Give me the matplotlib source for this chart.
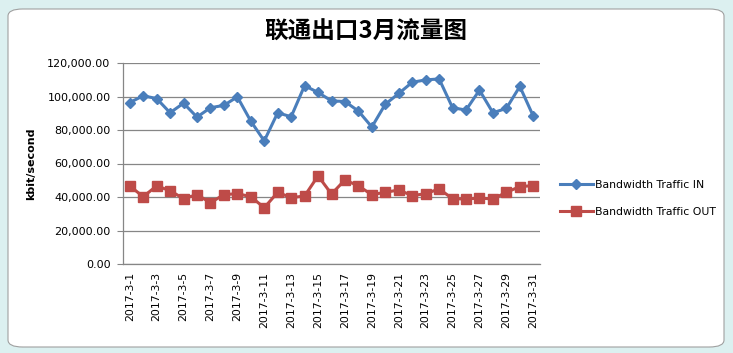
import matplotlib.pyplot as plt
from matplotlib.patches import FancyBboxPatch
from matplotlib.ticker import FuncFormatter

plt.rcParams['font.family'] = ['DejaVu Sans']

# data (kbit/second)
days = ["2017-3-%d" % d for d in range(1, 32)]
traffic_in = [96400, 100400, 98800, 90300, 96000, 87700, 93300, 94700, 99800, 85300,
              73500, 90300, 87900, 106500, 102400, 97400, 97000, 91300, 81800, 95400,
              101800, 108500, 109900, 110500, 93300, 91900, 103800, 90300, 92900, 106000,
              88300]
traffic_out = [46600, 40200, 46600, 43800, 39000, 41400, 36600, 41400, 42000, 40200,
               33600, 42800, 39600, 40600, 52600, 41800, 50200, 46600, 41400, 42800,
               44200, 40800, 42000, 44800, 39000, 38800, 39400, 38800, 42800, 46200,
               46800]
yticks = [0, 20000, 40000, 60000, 80000, 100000, 120000]

fig = plt.figure(figsize=(7.33, 3.53), dpi=100)
fig.patch.set_facecolor("#dcf0f0")

# excel chart frame
frame = FancyBboxPatch((8 / 733, 6 / 353), 716 / 733, 338 / 353,
                       boxstyle="round,pad=0,rounding_size=0.02",
                       transform=fig.transFigure, facecolor="white",
                       edgecolor="#a0a0a0", linewidth=0.8, zorder=-5)
fig.patches.append(frame)

ax = fig.add_axes([123 / 733, 89 / 353, 417 / 733, 201 / 353])
ax.set_facecolor("none")
x = list(range(len(days)))
ax.plot(x, traffic_in, color="#4a7ebb", linewidth=2.2, marker="D", markersize=5.5,
        label="Bandwidth Traffic IN", zorder=3)
ax.plot(x, traffic_out, color="#be4b48", linewidth=2.2, marker="s", markersize=7,
        label="Bandwidth Traffic OUT", zorder=3)

ax.set_xlim(-0.5, len(days) - 0.5)
ax.set_ylim(0, 120000)
ax.set_yticks(yticks)
ax.yaxis.set_major_formatter(FuncFormatter(lambda v, p: "{:,.2f}".format(v)))
ax.set_xticks(x[::2])
ax.set_xticklabels(days[::2], rotation=90, fontsize=7.8)
ax.tick_params(axis="y", labelsize=8, length=4, color="#868686", pad=5)
ax.tick_params(axis="x", length=0, pad=6)
ax.grid(axis="y", color="#868686", linewidth=0.9)
ax.set_axisbelow(True)
for s in ["top", "right"]:
    ax.spines[s].set_visible(False)
for s in ["left", "bottom"]:
    ax.spines[s].set_color("#868686")
    ax.spines[s].set_linewidth(0.9)

ax.set_ylabel("kbit/second", fontsize=8, fontweight="bold", labelpad=8)

fig.text(366 / 733, 1 - 32 / 353, "联通出口3月流量图", ha="center", va="center",
         fontsize=17, fontweight="bold", family=["Noto Sans CJK SC", "DejaVu Sans"])

ax.legend(loc="center left", bbox_to_anchor=(1.025, 0.326), frameon=False, fontsize=7.8,
          handlelength=3, labelspacing=1.55, handletextpad=0.2)

fig.savefig("out.png", dpi=100, facecolor=fig.get_facecolor())
